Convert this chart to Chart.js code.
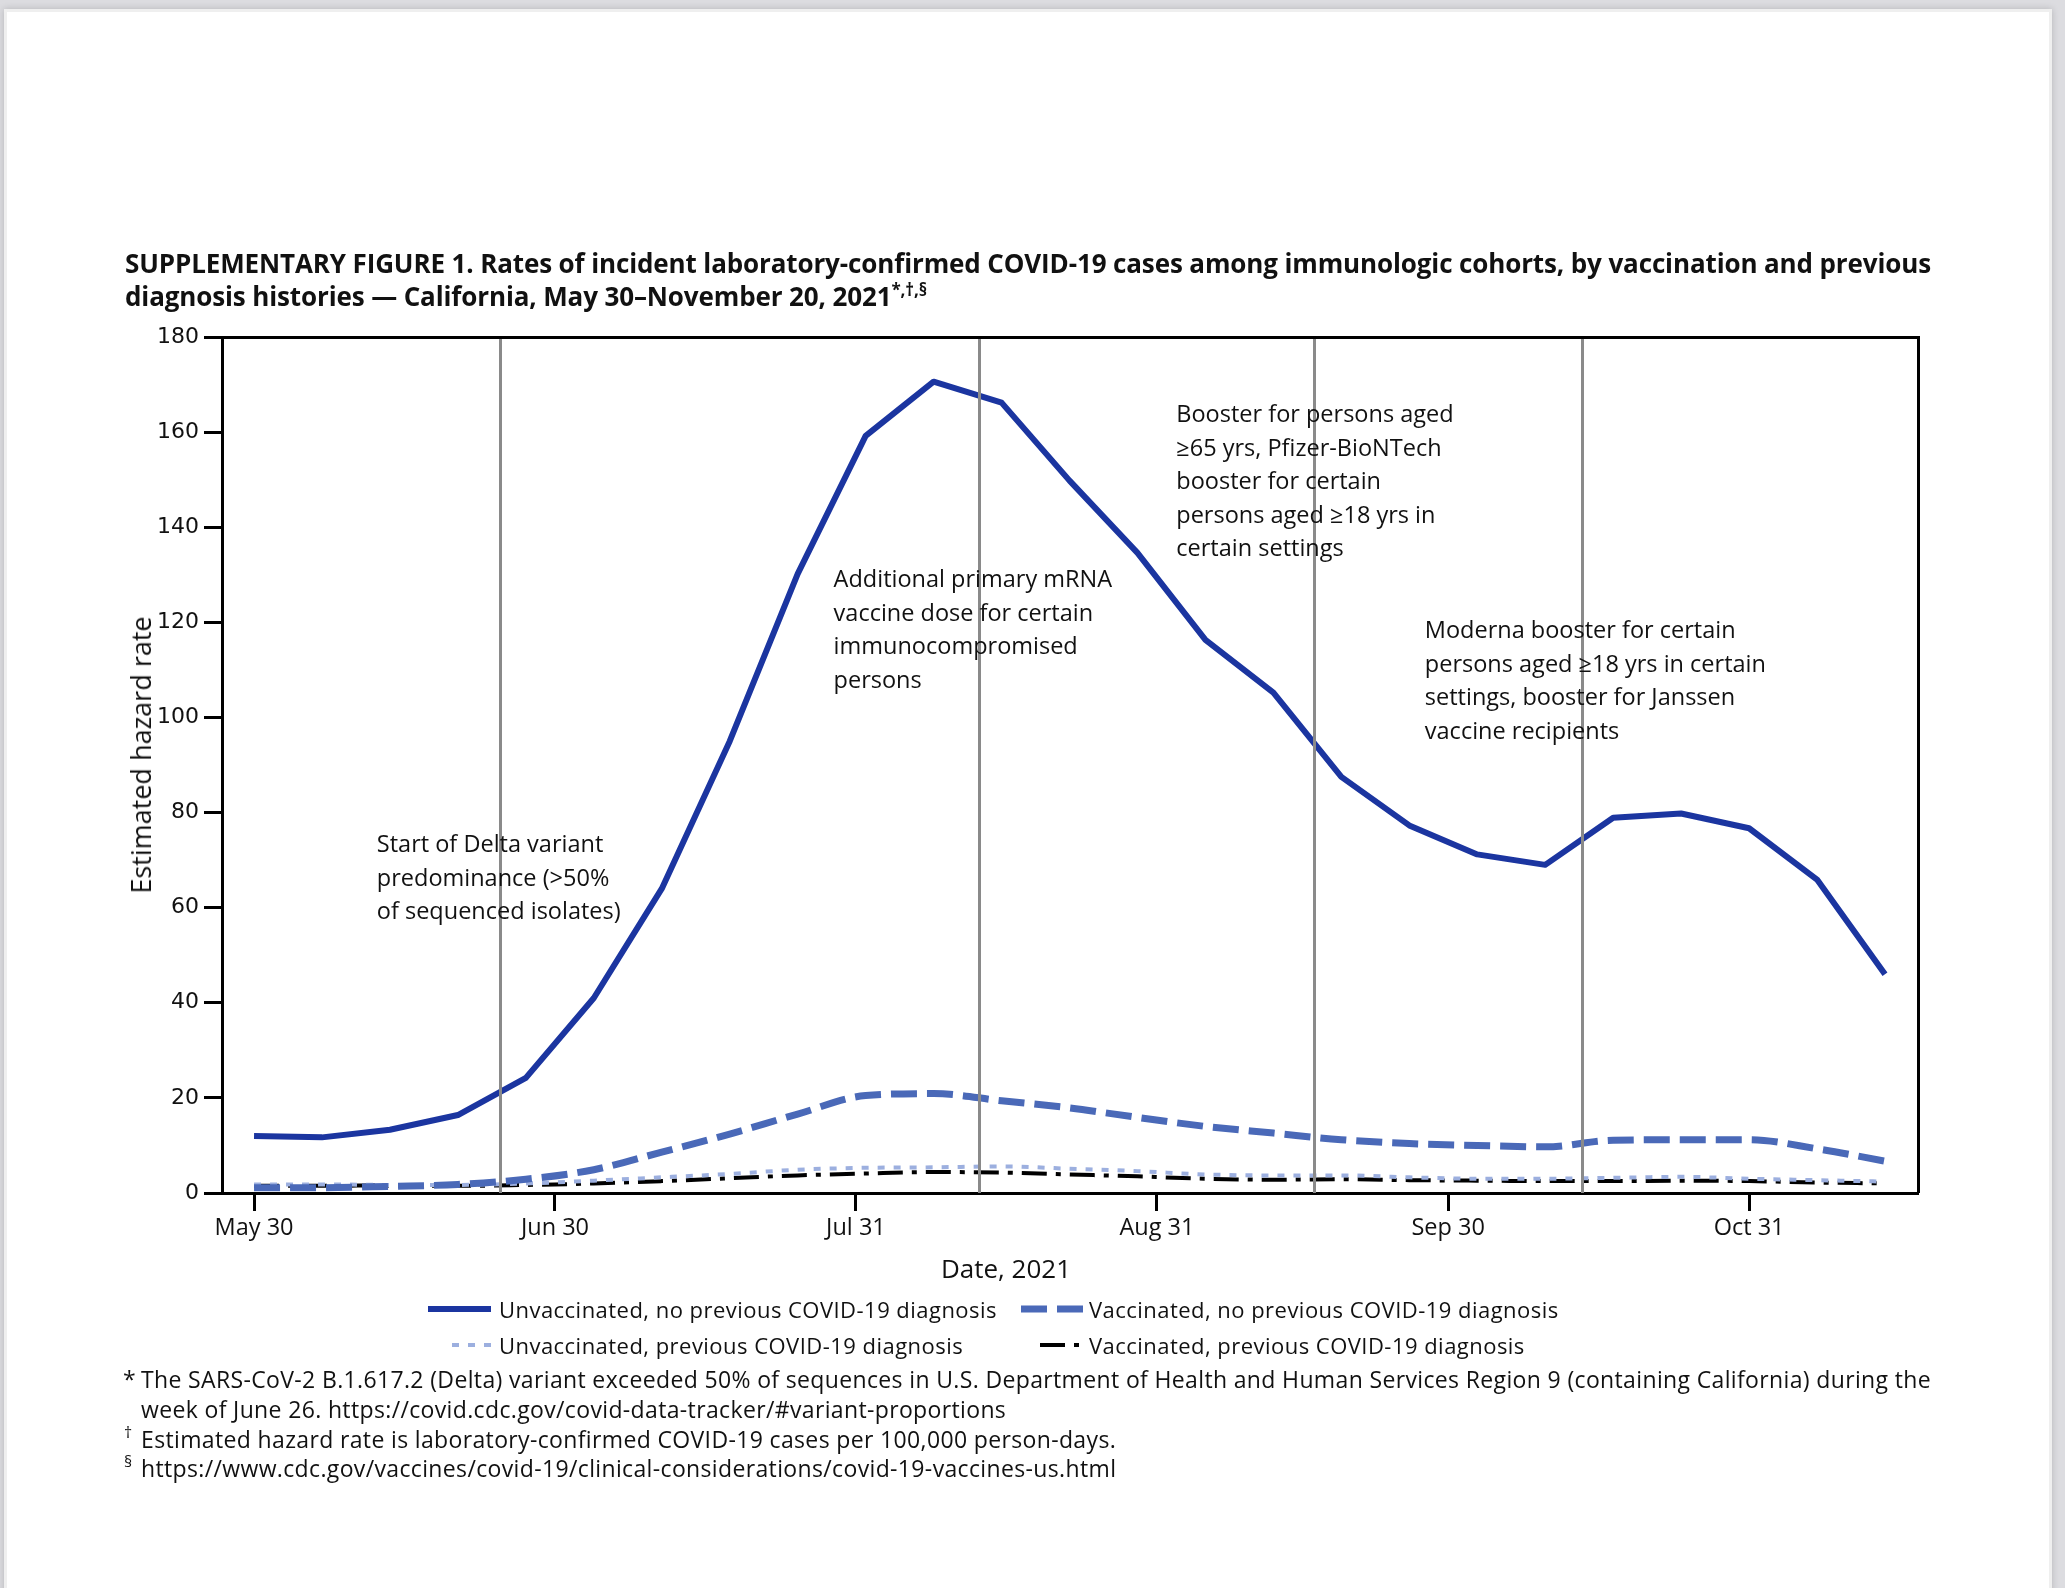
<!DOCTYPE html>
<html>
<head>
<meta charset="utf-8">
<script src="https://cdn.jsdelivr.net/npm/chart.js@4.4.1/dist/chart.umd.min.js"></script>
<style>
html,body{margin:0;padding:0;}
body{width:2065px;height:1588px;overflow:hidden;position:relative;background:#dcdce0;font-family:"Open Sans",sans-serif;color:#111;}
#page{position:absolute;left:4px;top:9px;width:2042px;height:1620px;background:#fff;border:3px solid #efefef;box-shadow:0 0 7px rgba(0,0,0,0.18);}
#c{position:absolute;left:0;top:0;}
.t{position:absolute;white-space:nowrap;}
.title{font-weight:700;font-size:26px;line-height:34px;}
.title sup{font-size:17px;line-height:0;vertical-align:0.6em;}
.leg{font-size:22px;line-height:30px;}
.fn{font-size:23px;line-height:30px;}
.fn sup{font-size:16px;line-height:0;vertical-align:0.6em;}
.anno{font-size:23.5px;line-height:33.5px;}
.axt{font-size:26px;line-height:32px;}
svg{position:absolute;overflow:visible;}
</style>
</head>
<body>
<div id="page"></div>
<canvas id="c" width="2065" height="1588"></canvas>

<div class="t title" id="title1" style="left:125px;top:246px">SUPPLEMENTARY FIGURE 1. Rates of incident laboratory-confirmed COVID-19 cases among immunologic cohorts, by vaccination and previous</div>
<div class="t title" id="title2" style="left:125px;top:279px">diagnosis histories — California, May 30–November 20, 2021<sup>*,†,§</sup></div>

<div class="t axt" id="ytitle" style="left:141px;top:755px;transform:translate(-50%,-50%) rotate(-90deg);font-size:27px;">Estimated hazard rate</div>
<div class="t axt" id="xtitle" style="left:1006px;top:1268px;transform:translate(-50%,-50%);">Date, 2021</div>

<div id="legend"></div>

<div class="t fn" style="left:123px;top:1364px">*</div>
<div class="t fn" id="fn1" style="left:141px;top:1364px">The SARS-CoV-2 B.1.617.2 (Delta) variant exceeded 50% of sequences in U.S. Department of Health and Human Services Region 9 (containing California) during the</div>
<div class="t fn" id="fn2" style="left:141px;top:1394px">week of June 26. https://covid.cdc.gov/covid-data-tracker/#variant-proportions</div>
<div class="t fn" style="left:124px;top:1424px"><sup>†</sup></div>
<div class="t fn" id="fn3" style="left:141px;top:1424px">Estimated hazard rate is laboratory-confirmed COVID-19 cases per 100,000 person-days.</div>
<div class="t fn" style="left:124px;top:1453px"><sup>§</sup></div>
<div class="t fn" id="fn4" style="left:141px;top:1453px">https://www.cdc.gov/vaccines/covid-19/clinical-considerations/covid-19-vaccines-us.html</div>

<div id="annos"></div>

<script>
// ---------- data ----------
const weekDates = ['2021-05-30','2021-06-06','2021-06-13','2021-06-20','2021-06-27','2021-07-04','2021-07-11','2021-07-18','2021-07-25','2021-08-01','2021-08-08','2021-08-15','2021-08-22','2021-08-29','2021-09-05','2021-09-12','2021-09-19','2021-09-26','2021-10-03','2021-10-10','2021-10-17','2021-10-24','2021-10-31','2021-11-07','2021-11-14'];
const unvaxNoPrev = [12.0, 11.7, 13.3, 16.4, 24.2, 41.0, 64.0, 95.0, 130.2, 159.2, 170.6, 166.2, 149.8, 134.6, 116.3, 105.2, 87.5, 77.3, 71.2, 69.0, 78.9, 79.8, 76.7, 65.9, 46.0];
const vaxNoPrev   = [1.1, 1.1, 1.4, 1.8, 2.9, 4.9, 8.6, 12.4, 16.6, 20.5, 20.9, 19.4, 17.9, 15.9, 14.0, 12.6, 11.2, 10.4, 10.0, 9.7, 11.1, 11.2, 11.2, 9.3, 6.7];
const unvaxPrev   = [1.8, 1.8, 1.7, 1.7, 2.0, 2.6, 3.3, 4.0, 4.9, 5.3, 5.4, 5.6, 5.1, 4.6, 3.9, 3.7, 3.7, 3.3, 3.0, 3.0, 3.2, 3.4, 3.0, 2.7, 2.4];
const vaxPrev     = [1.5, 1.5, 1.6, 1.5, 1.7, 2.0, 2.5, 3.1, 3.7, 4.1, 4.4, 4.3, 3.9, 3.5, 3.0, 2.8, 2.9, 2.7, 2.6, 2.5, 2.5, 2.6, 2.5, 2.2, 2.0];
const seriesLabels = ['Unvaccinated, no previous COVID-19 diagnosis','Vaccinated, no previous COVID-19 diagnosis','Unvaccinated, previous COVID-19 diagnosis','Vaccinated, previous COVID-19 diagnosis'];
const tickDates  = ['2021-05-30','2021-06-30','2021-07-31','2021-08-31','2021-09-30','2021-10-31'];
const tickLabels = ['May 30','Jun 30','Jul 31','Aug 31','Sep 30','Oct 31'];
const yTicks = [0,20,40,60,80,100,120,140,160,180];
const eventDays = [25.3, 74.65, 109.2, 136.8];   // days since May 30
const annoTexts = [
  ['Start of Delta variant','predominance (>50%','of sequenced isolates)'],
  ['Additional primary mRNA','vaccine dose for certain','immunocompromised','persons'],
  ['Booster for persons aged','≥65 yrs, Pfizer-BioNTech','booster for certain','persons aged ≥18 yrs in','certain settings'],
  ['Moderna booster for certain','persons aged ≥18 yrs in certain','settings, booster for Janssen','vaccine recipients']
];
const annoDays = [12.65, 59.7, 95.0, 120.6];
const annoVals = [73.4, 129.1, 163.8, 118.4];

// ---------- helpers ----------
const origin = Date.parse('2021-05-30');
const dayOf = d => (Date.parse(d) - origin) / 86400000;
const weekDays = weekDates.map(dayOf);
const tickDays = tickDates.map(dayOf);
const toXY = arr => arr.map((v, i) => ({x: weekDays[i], y: v}));

const styles = [
  {color:'#1b35a0', width:6, dash:[], smooth:false},
  {color:'#4a69b8', width:7, dash:[26,10], smooth:true},
  {color:'#9cafdf', width:4, dash:[7,9], smooth:true},
  {color:'#000000', width:4, dash:[25,9,5,9], smooth:true}
];
const seriesData = [unvaxNoPrev, vaxNoPrev, unvaxPrev, vaxPrev];

const refPlugin = {
  id: 'refs',
  afterDatasetsDraw(chart) {
    const {ctx, chartArea:a, scales:{x}} = chart;
    ctx.save();
    ctx.strokeStyle = '#8a8a8a';
    ctx.lineWidth = 3;
    eventDays.forEach(d => {
      const px = Math.round(x.getPixelForValue(d)) + 0.5;
      ctx.beginPath(); ctx.moveTo(px, a.top); ctx.lineTo(px, a.bottom); ctx.stroke();
    });
    ctx.strokeStyle = '#000';
    ctx.lineWidth = 3;
    ctx.beginPath();
    ctx.moveTo(a.left, a.top + 0.5); ctx.lineTo(a.right + 0.5, a.top + 0.5); ctx.lineTo(a.right + 0.5, a.bottom);
    ctx.stroke();
    ctx.restore();
  }
};

const chart = new Chart(document.getElementById('c').getContext('2d'), {
  type: 'line',
  data: {
    datasets: seriesData.map((arr, i) => ({
      label: seriesLabels[i],
      data: toXY(arr),
      borderColor: styles[i].color,
      backgroundColor: styles[i].color,
      borderWidth: styles[i].width,
      borderDash: styles[i].dash,
      tension: 0,
      cubicInterpolationMode: styles[i].smooth ? 'monotone' : 'default',
      borderJoinStyle: 'round',
      pointRadius: 0,
      fill: false
    }))
  },
  options: {
    responsive: false,
    animation: false,
    devicePixelRatio: 1,
    layout: {padding: {left: 0, right: 147, top: 337, bottom: 335}},
    plugins: {legend: {display: false}, tooltip: {enabled: false}, title: {display: false}},
    scales: {
      x: {
        type: 'linear', min: -3.3, max: 171.4,
        afterFit: s => { s.height = 60; },
        afterBuildTicks: s => { s.ticks = tickDays.map(v => ({value: v})); },
        ticks: {
          autoSkip: false, maxRotation: 0, padding: 3, color: '#111',
          font: {family: 'Open Sans', size: 23.5},
          callback: v => tickLabels[tickDays.indexOf(v)]
        },
        grid: {drawOnChartArea: false, drawTicks: true, tickLength: 18, tickWidth: 3, tickColor: '#000'},
        border: {display: true, color: '#000', width: 3}
      },
      y: {
        min: 0, max: 180,
        afterFit: s => { s.width = 222; },
        afterBuildTicks: s => { s.ticks = yTicks.map(v => ({value: v})); },
        ticks: {padding: 5, color: '#111', font: {family: 'DejaVu Sans', size: 22}},
        grid: {drawOnChartArea: false, drawTicks: true, tickLength: 18, tickWidth: 3, tickColor: '#000'},
        border: {display: true, color: '#000', width: 3}
      }
    }
  },
  plugins: [refPlugin]
});

// ---------- annotations (anchored through the scales) ----------
const annoHost = document.getElementById('annos');
annoTexts.forEach((lines, i) => {
  const px = chart.scales.x.getPixelForValue(annoDays[i]);
  const py = chart.scales.y.getPixelForValue(annoVals[i]);
  const div = document.createElement('div');
  div.className = 't anno';
  div.style.left = px + 'px';
  div.style.top = (py - 16.75) + 'px';
  div.innerHTML = lines.map(l => l.replace(/&/g,'&amp;').replace(/</g,'&lt;').replace(/>/g,'&gt;')).join('<br>');
  annoHost.appendChild(div);
});

// ---------- legend ----------
const legHost = document.getElementById('legend');
const legendPos = [
  {tx:499, ty:1294, sx:428, sw:63},
  {tx:1089, ty:1294, sx:1021, sw:62},
  {tx:499, ty:1330, sx:452, sw:39},
  {tx:1089, ty:1330, sx:1040, sw:43}
];
seriesLabels.forEach((lab, i) => {
  const p = legendPos[i], st = styles[i];
  const t = document.createElement('div');
  t.className = 't leg'; t.id = 'leg' + i;
  t.style.left = p.tx + 'px'; t.style.top = p.ty + 'px';
  t.textContent = lab;
  legHost.appendChild(t);
  const svgNS = 'http://www.w3.org/2000/svg';
  const svg = document.createElementNS(svgNS, 'svg');
  svg.setAttribute('width', p.sw); svg.setAttribute('height', 12);
  svg.style.left = p.sx + 'px'; svg.style.top = (p.ty + 15 - 6) + 'px';
  const ln = document.createElementNS(svgNS, 'line');
  ln.setAttribute('x1', 0); ln.setAttribute('x2', p.sw);
  ln.setAttribute('y1', 6); ln.setAttribute('y2', 6);
  ln.setAttribute('stroke', st.color);
  ln.setAttribute('stroke-width', st.width);
  if (st.dash.length) ln.setAttribute('stroke-dasharray', st.dash.join(' '));
  svg.appendChild(ln);
  legHost.appendChild(svg);
});

// ---------- width fitting of long text lines ----------
function fitGroup(ids, target) {
  const el = document.getElementById(ids[0]);
  const w = el.getBoundingClientRect().width;
  const n = el.textContent.length;
  const ls = (target - w) / n;
  ids.forEach(id => { document.getElementById(id).style.letterSpacing = ls + 'px'; });
}
fitGroup(['title1','title2'], 1806);
fitGroup(['fn1','fn2','fn3','fn4'], 1790);
fitGroup(['leg0','leg1','leg2','leg3'], 498);
</script>
</body>
</html>
